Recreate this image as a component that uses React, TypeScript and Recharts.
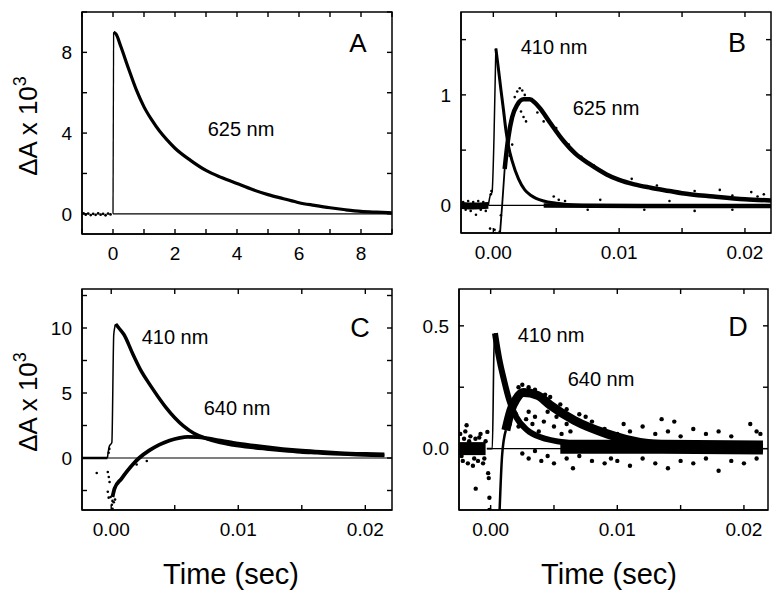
import React from 'react';
import { ComposedChart, Line, XAxis, YAxis } from 'recharts';

type P = [number, number][];

// ---------- Panel A (625 nm) ----------
const aTicksX = [-1, 0, 1, 2, 3, 4, 5, 6, 7, 8, 9];
const aLabelsX = [0, 2, 4, 6, 8];
const aTicksY = [0, 2, 4, 6, 8, 10];
const aLabelsY = [0, 4, 8];
const aZero: P = [[0, 0], [9, 0]];
const aRise: P = [[0.0, 0.0], [0.02, 9.0]];
const a625: P = [
  [0.02, 9.0], [0.1, 8.9], [0.25, 8.3], [0.5, 7.2], [0.75, 6.15], [1, 5.3], [1.25, 4.65], [1.5, 4.1],
  [1.75, 3.65], [2, 3.25], [2.5, 2.65], [3, 2.15], [3.5, 1.8], [4, 1.5], [4.5, 1.2], [5, 0.95],
  [5.5, 0.75], [6, 0.55], [6.5, 0.42], [7, 0.3], [7.5, 0.2], [8, 0.12], [8.5, 0.08], [9, 0.05],
];
const aDots: P = [
  [-0.95, 0.02], [-0.88, -0.04], [-0.8, 0.01], [-0.72, -0.06], [-0.64, 0.0], [-0.56, -0.05],
  [-0.48, 0.02], [-0.4, -0.04], [-0.32, 0.0], [-0.24, -0.07], [-0.16, 0.01], [-0.08, -0.03],
];

// ---------- Panel B (410 / 625 nm) ----------
const bTicksX = [0, 0.005, 0.01, 0.015, 0.02];
const bLabelsX = [0, 0.01, 0.02];
const bTicksY = [0, 0.5, 1, 1.5];
const bLabelsY = [0, 1];
const bZero: P = [[-0.0004, 0], [0.02207, 0]];
const bBasePre: P = [[-0.00257, 0.0], [-0.0015, -0.005], [-0.0004, 0.0]];
const b410Rise: P = [[-0.0004, 0.0], [-0.00025, 0.09], [-0.0001, 0.12], [0.00005, 0.6], [0.0002, 1.42]];
const b410: P = [
  [0.0002, 1.42], [0.0004, 1.24], [0.0006, 1.05], [0.0008, 0.87], [0.001, 0.68], [0.0012, 0.54],
  [0.0015, 0.4], [0.002, 0.24], [0.0025, 0.14], [0.003, 0.09], [0.004, 0.04], [0.005, 0.02],
  [0.007, 0.0], [0.01, -0.01], [0.015, -0.01], [0.0221, -0.01],
];
const bBasePost: P = [[0.004, 0.0], [0.012, -0.005], [0.0221, -0.005]];
const b625Rise: P = [[0.0005, -0.3], [0.0007, 0.0], [0.0009, 0.33]];
const b625: P = [
  [0.0009, 0.33], [0.0012, 0.62], [0.0015, 0.8], [0.0019, 0.91], [0.0024, 0.96], [0.0029, 0.96],
  [0.0033, 0.93], [0.0037, 0.88], [0.0045, 0.75], [0.0056, 0.58], [0.0065, 0.47], [0.0077, 0.37],
  [0.009, 0.28], [0.01, 0.23], [0.0112, 0.19], [0.0125, 0.16], [0.014, 0.13], [0.015, 0.11],
  [0.0175, 0.08], [0.02, 0.055], [0.0221, 0.045],
];
const bDots: P = [
  [-0.0024, 0.03], [-0.0022, -0.04], [-0.002, 0.04], [-0.0018, -0.05], [-0.0016, 0.03],
  [-0.00138, -0.085], [-0.0012, 0.04], [-0.001, -0.04], [-0.0008, 0.03], [-0.0006, -0.05],
  [-0.00026, -0.21], [0.0001, -0.22], [0.00015, -0.25], [-0.0002, 0.1], [-0.00015, 0.13],
  [0.0006, -0.09], [0.0005, -0.24], [0.0017, 0.98], [0.0019, 1.03], [0.0021, 1.06], [0.0023, 1.04],
  [0.0025, 1.0], [0.0022, 0.85], [0.0024, 0.8], [0.0026, 0.76], [0.0013, 0.45], [0.0015, 0.55],
  [0.0048, 0.08], [0.0052, 0.05], [0.0057, 0.04], [0.0075, -0.04], [0.0085, 0.05], [0.012, -0.04],
  [0.014, 0.04], [0.016, -0.05], [0.018, 0.14], [0.019, -0.04], [0.0205, 0.12], [0.0215, 0.1],
  [0.0035, 0.84], [0.004, 0.76], [0.005, 0.7], [0.006, 0.55], [0.007, 0.44], [0.008, 0.36],
  [0.011, 0.24], [0.013, 0.18], [0.016, 0.13], [0.019, 0.09], [0.021, 0.08],
];

// ---------- Panel C (410 / 640 nm) ----------
const cTicksX = [0, 0.005, 0.01, 0.015, 0.02];
const cLabelsX = [0, 0.01, 0.02];
const cTicksY = [-2.5, 0, 2.5, 5, 7.5, 10, 12.5];
const cLabelsY = [0, 5, 10];
const cZero: P = [[-0.0023, 0], [0.0221, 0]];
const cBasePre: P = [[-0.0023, 0.0], [-0.0003, 0.0]];
const c410Rise: P = [[-0.0003, 0.0], [-0.00015, 0.9], [0.00005, 1.2], [0.0002, 9.5], [0.00035, 10.3]];
const c410: P = [
  [0.00035, 10.3], [0.0006, 10.0], [0.001, 9.5], [0.0017, 8.0], [0.0023, 6.8], [0.003, 5.7],
  [0.0037, 4.7], [0.0043, 3.9], [0.005, 3.1], [0.0057, 2.45], [0.0065, 1.9], [0.0075, 1.5],
  [0.0085, 1.2], [0.0096, 1.0], [0.011, 0.82], [0.0122, 0.7], [0.0135, 0.58], [0.0149, 0.47],
  [0.0162, 0.4], [0.0175, 0.33], [0.019, 0.27], [0.0205, 0.22], [0.0215, 0.2],
];
const c640: P = [
  [0.0001, -3.0], [0.00026, -2.36], [0.0008, -1.6], [0.0013, -0.95], [0.0018, -0.38], [0.0022, 0.0],
  [0.003, 0.58], [0.0038, 1.03], [0.0046, 1.35], [0.0054, 1.55], [0.006, 1.62], [0.0068, 1.6],
  [0.0076, 1.5], [0.0086, 1.33], [0.0096, 1.17], [0.011, 0.98], [0.0122, 0.83], [0.0135, 0.69],
  [0.015, 0.56], [0.0165, 0.46], [0.018, 0.38], [0.02, 0.31], [0.0215, 0.27],
];
const cDots: P = [
  [-0.00114, -1.15], [-0.00027, -1.08], [-0.00019, -1.46], [-0.00013, -1.85], [-0.00027, -2.6],
  [-0.0002, -3.05], [-0.00005, -3.0], [0.0001, -3.3], [0.0002, -3.4], [0.0003, -3.2],
  [0.00005, -3.6], [0.0001, -3.9], [0.002, -0.5], [0.0028, -0.23], [-0.0002, 0.4], [-0.00015, 0.7],
];

// ---------- Panel D (410 / 640 nm) ----------
const dTicksX = [0, 0.005, 0.01, 0.015, 0.02];
const dLabelsX = [0, 0.01, 0.02];
const dTicksY = [0, 0.25, 0.5];
const dLabelsY = [0, 0.5];
const dZero: P = [[-0.0003, 0], [0.0219, 0]];
const dBasePre: P = [[-0.0025, 0.0], [-0.0015, 0.0], [-0.0004, 0.0]];
const d410Rise: P = [[-0.0003, 0.0], [0.00013, 0.0], [0.00026, 0.4], [0.00034, 0.47]];
const d410: P = [
  [0.00034, 0.47], [0.00066, 0.37], [0.00105, 0.28], [0.00145, 0.2], [0.002, 0.13], [0.0029, 0.075],
  [0.0039, 0.047], [0.0066, 0.02], [0.01, 0.0], [0.0215, 0.0],
];
const d640Rise: P = [[0.0007, -0.26], [0.0009, -0.03], [0.0012, 0.075]];
const d640: P = [
  [0.0012, 0.075], [0.0016, 0.156], [0.002, 0.2], [0.0026, 0.228], [0.0037, 0.217], [0.0047, 0.177],
  [0.0066, 0.115], [0.0092, 0.06], [0.0118, 0.025], [0.015, 0.012], [0.018, 0.005], [0.0215, 0.0],
];
const dBasePost: P = [[0.0055, 0.008], [0.012, 0.008], [0.0215, 0.005]];
const dDots: P = [
  [-0.0024, 0.06], [-0.0022, -0.05], [-0.002, 0.07], [-0.0018, -0.06], [-0.0016, 0.05],
  [-0.0014, -0.07], [-0.0012, 0.04], [-0.001, -0.05], [-0.0008, 0.06], [-0.0006, -0.06],
  [-0.0004, 0.03], [-0.0002, -0.1], [-0.00015, -0.12], [-0.0001, -0.2], [-0.0001, -0.25],
  [-0.00118, -0.163], [-0.0019, 0.095], [-0.00026, 0.068], [-0.0023, -0.03], [-0.0021, 0.04],
  [-0.0017, 0.03], [-0.0013, -0.04], [-0.0009, 0.045], [-0.0005, -0.04],
  [0.0015, 0.1], [0.002, 0.14], [0.0022, 0.09], [0.0028, 0.12], [0.003, 0.15], [0.0033, 0.1],
  [0.0035, 0.13], [0.0038, 0.07], [0.0042, 0.11], [0.0045, 0.15], [0.005, 0.09], [0.0052, 0.13],
  [0.0056, 0.06], [0.006, 0.1], [0.0063, 0.07],
  [0.0022, 0.25], [0.0025, 0.26], [0.003, 0.25], [0.0035, 0.24], [0.0043, 0.22], [0.0047, 0.21],
  [0.0055, 0.18], [0.006, 0.16], [0.007, 0.14], [0.0075, 0.13], [0.008, 0.11],
  [0.0025, -0.02], [0.003, -0.04], [0.0035, -0.01], [0.004, -0.05], [0.0045, -0.03], [0.005, -0.06],
  [0.006, -0.04], [0.0065, -0.08], [0.007, -0.03], [0.008, -0.05], [0.009, -0.06], [0.0095, -0.04],
  [0.01, -0.05], [0.011, -0.07], [0.012, -0.04], [0.013, -0.06], [0.014, -0.08], [0.015, -0.05],
  [0.016, -0.06], [0.017, -0.04], [0.018, -0.09], [0.019, -0.05], [0.02, -0.06], [0.021, -0.04],
  [0.009, 0.08], [0.01, 0.06], [0.0105, 0.1], [0.011, 0.07], [0.012, 0.09], [0.013, 0.06],
  [0.0135, 0.12], [0.014, 0.07], [0.0145, 0.11], [0.015, 0.05], [0.016, 0.08], [0.017, 0.06],
  [0.018, 0.07], [0.019, 0.05], [0.0205, 0.1], [0.021, 0.07], [0.0213, 0.06],
];

// ---------- rendering ----------
const FONT = '"Liberation Sans", Arial, Helvetica, sans-serif';
const AXW = 82; // left axis width
const MT = 12; // top margin
const TL = 5; // tick length, px

type Pt = { x: number; y: number };
const toObj = (d: P): Pt[] => d.map(([x, y]) => ({ x, y }));

interface LineSpec { data: Pt[]; w: number }
interface PanelSpec {
  left: number; top: number; plotW: number; plotH: number;
  xDomain: [number, number]; yDomain: [number, number];
  xTicks: number[]; xLabels: number[]; yTicks: number[]; yLabels: number[];
  fmtX: (v: number) => string; fmtY: (v: number) => string;
  lines: LineSpec[]; dots: Pt[]; dotR: number; zero: Pt[];
}

const axisStroke = { stroke: '#000', strokeWidth: 1.5 };

function Panel({ s }: { s: PanelSpec }) {
  const W = AXW + s.plotW + 6;
  const H = MT + s.plotH + 50;
  const XTick = (p: any) => {
    const v = p.payload.value;
    if (!s.xLabels.includes(v)) return <g />;
    return (
      <text x={p.x} y={p.y} dy="0.71em" textAnchor="middle" fontSize={19} fontFamily={FONT} fill="#000">
        {s.fmtX(v)}
      </text>
    );
  };
  const YTick = (p: any) => {
    const v = p.payload.value;
    if (!s.yLabels.includes(v)) return <g />;
    return (
      <text x={p.x} y={p.y} dy="0.355em" textAnchor="end" fontSize={19} fontFamily={FONT} fill="#000">
        {s.fmtY(v)}
      </text>
    );
  };
  return (
    <div style={{ position: 'absolute', left: s.left - AXW, top: s.top - MT }}>
      <ComposedChart width={W} height={H} margin={{ top: MT, right: 6, left: 0, bottom: 0 }}>
        <XAxis xAxisId="b" dataKey="x" type="number" domain={s.xDomain} ticks={s.xTicks} interval={0}
          allowDataOverflow tickLine={false} axisLine={axisStroke} tickSize={0} tickMargin={13} height={50}
          tick={XTick} />
        <YAxis yAxisId="l" dataKey="y" type="number" domain={s.yDomain} ticks={s.yTicks} interval={0}
          allowDataOverflow tickLine={false} axisLine={axisStroke} tickSize={0} tickMargin={10} width={AXW}
          tick={YTick} />
        <Line xAxisId="b" yAxisId="l" data={s.zero} dataKey="y" type="linear" stroke="#000" strokeWidth={1.2}
          dot={false} activeDot={false} isAnimationActive={false} />
        {s.lines.map((ln, i) => (
          <Line key={i} xAxisId="b" yAxisId="l" data={ln.data} dataKey="y" type="monotone" stroke="#000"
            strokeWidth={ln.w} dot={false} activeDot={false} isAnimationActive={false}
            strokeLinecap="butt" strokeLinejoin="round" />
        ))}
        <Line xAxisId="b" yAxisId="l" data={s.dots} dataKey="y" type="linear" stroke="none"
          dot={{ r: s.dotR, fill: '#000', stroke: 'none' }} activeDot={false} isAnimationActive={false} />
      </ComposedChart>
    </div>
  );
}

// Frame and inward tick marks as a plain overlay, using the same linear mapping as the axes
function FrameOverlay() {
  const items: React.ReactNode[] = [];
  panels.forEach((s, k) => {
    const [x0, x1] = s.xDomain;
    const [y0, y1] = s.yDomain;
    const px = (v: number) => s.left + ((v - x0) / (x1 - x0)) * s.plotW;
    const py = (v: number) => s.top + ((y1 - v) / (y1 - y0)) * s.plotH;
    const bottom = s.top + s.plotH;
    const right = s.left + s.plotW;
    items.push(
      <rect key={`r${k}`} x={s.left} y={s.top} width={s.plotW} height={s.plotH} fill="none" stroke="#000" strokeWidth={1.5} />,
    );
    s.xTicks.forEach((v, i) => {
      const x = px(v);
      items.push(<line key={`xb${k}-${i}`} x1={x} x2={x} y1={bottom} y2={bottom - TL} stroke="#000" strokeWidth={1.4} />);
      items.push(<line key={`xt${k}-${i}`} x1={x} x2={x} y1={s.top} y2={s.top + TL} stroke="#000" strokeWidth={1.4} />);
    });
    s.yTicks.forEach((v, i) => {
      const y = py(v);
      items.push(<line key={`yl${k}-${i}`} x1={s.left} x2={s.left + TL} y1={y} y2={y} stroke="#000" strokeWidth={1.4} />);
      items.push(<line key={`yr${k}-${i}`} x1={right} x2={right - TL} y1={y} y2={y} stroke="#000" strokeWidth={1.4} />);
    });
  });
  return (
    <svg width={780} height={599} style={{ position: 'absolute', left: 0, top: 0, pointerEvents: 'none' }}>
      {items}
    </svg>
  );
}

function Txt({ x, y, size, children, rotate }: { x: number; y: number; size: number; children: React.ReactNode; rotate?: boolean }) {
  return (
    <div style={{
      position: 'absolute', left: x, top: y, fontSize: size, lineHeight: 1, fontFamily: FONT, color: '#000',
      whiteSpace: 'nowrap', transform: `translate(-50%, -50%)${rotate ? ' rotate(-90deg)' : ''}`,
    }}>{children}</div>
  );
}

const fmt2 = (v: number) => v.toFixed(2);
const fmt1 = (v: number) => v.toFixed(1);
const fmt0 = (v: number) => v.toFixed(0);
const L = (data: P, w: number): LineSpec => ({ data: toObj(data), w });

const panels: PanelSpec[] = [
  {
    left: 82, top: 12, plotW: 310, plotH: 222, xDomain: [-1, 9], yDomain: [-1, 10],
    xTicks: aTicksX, xLabels: aLabelsX, yTicks: aTicksY, yLabels: aLabelsY, fmtX: fmt0, fmtY: fmt0,
    lines: [L(aRise, 1.3), L(a625, 3.2)], dots: toObj(aDots), dotR: 1.4, zero: toObj(aZero),
  },
  {
    left: 461, top: 12, plotW: 310, plotH: 221, xDomain: [-0.00257, 0.02207], yDomain: [-0.25, 1.75],
    xTicks: bTicksX, xLabels: bLabelsX, yTicks: bTicksY, yLabels: bLabelsY, fmtX: fmt2, fmtY: fmt0,
    lines: [L(bBasePre, 7), L(b410Rise, 1.5), L(b410, 3), L(bBasePost, 4.5), L(b625Rise, 1.8), L(b625, 4.5)],
    dots: toObj(bDots), dotR: 1.3, zero: toObj(bZero),
  },
  {
    left: 82, top: 289, plotW: 310, plotH: 221, xDomain: [-0.0023, 0.0221], yDomain: [-4, 13],
    xTicks: cTicksX, xLabels: cLabelsX, yTicks: cTicksY, yLabels: cLabelsY, fmtX: fmt2, fmtY: fmt0,
    lines: [L(cBasePre, 2.5), L(c410Rise, 1.5), L(c410, 3.5), L(c640, 3.8)],
    dots: toObj(cDots), dotR: 1.3, zero: toObj(cZero),
  },
  {
    left: 459, top: 289, plotW: 309, plotH: 221, xDomain: [-0.0025, 0.0219], yDomain: [-0.25, 0.65],
    xTicks: dTicksX, xLabels: dLabelsX, yTicks: dTicksY, yLabels: dLabelsY, fmtX: fmt2, fmtY: fmt1,
    lines: [L(dBasePre, 13), L(dBasePost, 14), L(d410Rise, 1.6), L(d410, 6), L(d640Rise, 2.5), L(d640, 9)],
    dots: toObj(dDots), dotR: 2.2, zero: toObj(dZero),
  },
];

const yLabel = (<span>ΔA x 10<span style={{ fontSize: 18, position: 'relative', top: -11 }}>3</span></span>);

export default function App() {
  return (
    <div style={{ position: 'absolute', left: 0, top: 0, width: 780, height: 599, background: '#fff' }}>
      {panels.map((p, i) => <Panel key={`p${i}`} s={p} />)}
      <FrameOverlay />
      <Txt x={28} y={126} size={26} rotate>{yLabel}</Txt>
      <Txt x={28} y={402} size={26} rotate>{yLabel}</Txt>
      <Txt x={231} y={574} size={29}>Time (sec)</Txt>
      <Txt x={609} y={574} size={29}>Time (sec)</Txt>
      <Txt x={358} y={43} size={26}>A</Txt>
      <Txt x={241} y={129} size={20}>625 nm</Txt>
      <Txt x={737} y={43} size={27}>B</Txt>
      <Txt x={554} y={47} size={20}>410 nm</Txt>
      <Txt x={606} y={108} size={20}>625 nm</Txt>
      <Txt x={360} y={328} size={27}>C</Txt>
      <Txt x={175} y={337} size={20}>410 nm</Txt>
      <Txt x={237} y={408} size={20}>640 nm</Txt>
      <Txt x={738} y={327} size={27}>D</Txt>
      <Txt x={551} y={335} size={20}>410 nm</Txt>
      <Txt x={601} y={379} size={20}>640 nm</Txt>
    </div>
  );
}
